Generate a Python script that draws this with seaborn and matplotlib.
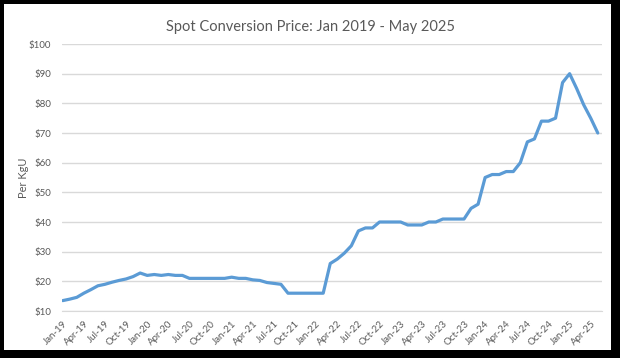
import numpy as np
import pandas as pd
import matplotlib
matplotlib.use("Agg")
import matplotlib.pyplot as plt
from matplotlib.patches import Rectangle
import seaborn as sns

# monthly spot conversion price, $/kgU, Jan 2019 - May 2025
price_2019 = [13.5, 14.0, 14.6, 16.0, 17.2, 18.5, 19.0, 19.7, 20.3, 20.8, 21.6, 22.8]
price_2020 = [22.0, 22.3, 22.0, 22.3, 22.0, 22.0, 21.0, 21.0, 21.0, 21.0, 21.0, 21.0]
price_2021 = [21.4, 21.0, 21.0, 20.5, 20.3, 19.6, 19.3, 19.0, 16.0, 16.0, 16.0, 16.0]
price_2022 = [16.0, 16.0, 26.0, 27.5, 29.5, 32.0, 37.0, 38.0, 38.0, 40.0, 40.0, 40.0]
price_2023 = [40.0, 39.0, 39.0, 39.0, 40.0, 40.0, 41.0, 41.0, 41.0, 41.0, 44.6, 46.0]
price_2024 = [55.0, 56.0, 56.0, 57.0, 57.0, 60.0, 67.0, 68.0, 74.0, 74.0, 75.0, 87.0]
price_2025 = [90.0, 85.0, 79.5, 75.0, 70.0]

prices = price_2019 + price_2020 + price_2021 + price_2022 + price_2023 + price_2024 + price_2025
months = pd.date_range("2019-01-01", "2025-05-01", freq="MS")
month_labels = [m.strftime("%b-%y") for m in months]
y_ticks = [10, 20, 30, 40, 50, 60, 70, 80, 90, 100]

df = pd.DataFrame({"idx": np.arange(len(prices)), "price": prices, "month": month_labels})

sns.set_style("white")
plt.rcParams["font.family"] = ["Lato", "DejaVu Sans"]

fig = plt.figure(figsize=(6.2, 3.58), dpi=100)
fig.patch.set_facecolor("black")
# white card inside the black screenshot border
fig.add_artist(Rectangle((4 / 620, 1 - 350 / 358), 607 / 620, 346 / 358,
                         transform=fig.transFigure, facecolor="white",
                         edgecolor="none", zorder=0))

ax = fig.add_axes([62 / 620, 1 - 311 / 358, 540 / 620, 267 / 358])
ax.set_facecolor("none")

sns.lineplot(data=df, x="idx", y="price", ax=ax, color="#5B9BD5",
             linewidth=2.3, solid_joinstyle="round")

ax.set_ylim(10, 100)
ax.set_xlim(-0.1, 76.6)
ax.set_yticks(y_ticks)
ax.set_yticklabels([f"${v}" for v in y_ticks])
tick_pos = df["idx"][::3]
ax.set_xticks(tick_pos)
ax.set_xticklabels(df["month"][::3], rotation=45, ha="right",
                   rotation_mode="anchor")

ax.grid(axis="y", color="#D9D9D9", linewidth=1)
ax.set_axisbelow(True)
for side in ["top", "right", "left"]:
    ax.spines[side].set_visible(False)
ax.spines["bottom"].set_color("#D9D9D9")
ax.tick_params(axis="y", length=0, labelsize=7, labelcolor="#595959", pad=8)
ax.tick_params(axis="x", length=4, color="#D9D9D9", labelsize=7,
               labelcolor="#595959", pad=2)

ax.set_xlabel("")
ax.set_ylabel("Per KgU", fontsize=8, color="#595959")
ax.yaxis.set_label_coords(-0.062, 0.5)
fig.text(0.5, 1 - 27 / 358, "Spot Conversion Price: Jan 2019 - May 2025",
         ha="center", va="center", fontsize=10.5, color="#595959")

fig.savefig("out.png", dpi=100, facecolor=fig.get_facecolor())
